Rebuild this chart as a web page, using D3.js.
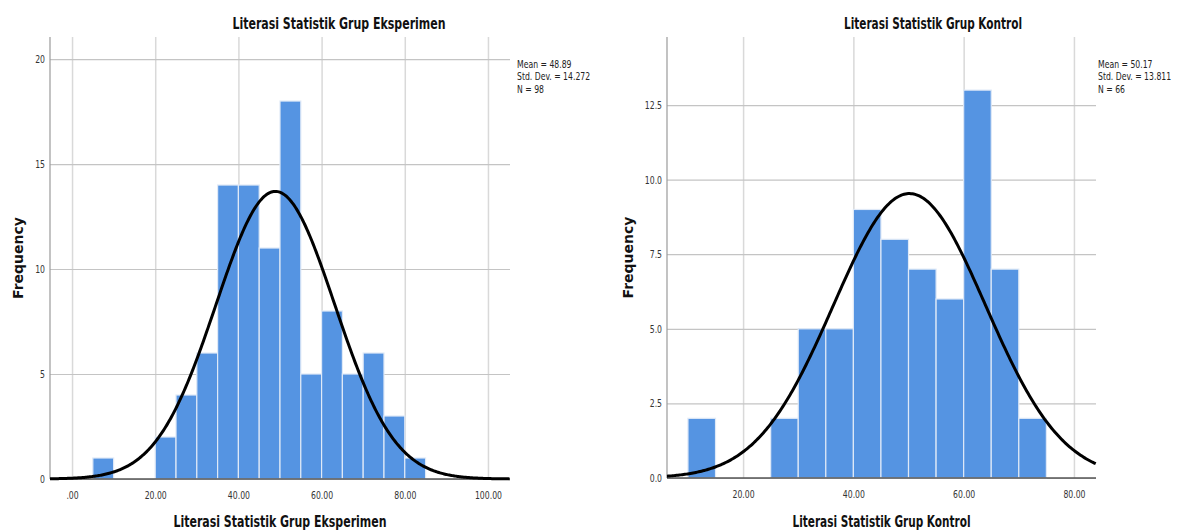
<!DOCTYPE html>
<html><head>
<meta charset="utf-8">
<script src="https://d3js.org/d3.v7.min.js"></script>
<style>
  body { margin: 0; background: #fff; }
  svg text { font-family: "Liberation Sans Narrow", "DejaVu Sans Condensed", "DejaVu Sans", sans-serif; }
  .vgrid line { stroke: #d9d9d9; stroke-width: 1.5; }
  .hgrid line { stroke: #c4c4c4; stroke-width: 1.2; }
  .vgrid .domain, .hgrid .domain { stroke: none; }
  .ticks .domain { stroke: none; }
  .ticks text { fill: #333; font-size: 11px; }
</style>
</head>
<body>
<svg id="svg1" width="1178" height="531"></svg>
<script>

// histogram data (bin lower edges, bin width 5)
const binWidth = 5;
const eksBinStart = [5, 20, 25, 30, 35, 40, 45, 50, 55, 60, 65, 70, 75, 80];
const eksCounts   = [1, 2, 4, 6, 14, 14, 11, 18, 5, 8, 5, 6, 3, 1];
const konBinStart = [10, 25, 30, 35, 40, 45, 50, 55, 60, 65, 70];
const konCounts   = [2, 2, 5, 5, 9, 8, 7, 6, 13, 7, 2];

// summary stats shown next to each chart
const eksStats = [48.89, 14.272, 98];   // mean, sd, n
const konStats = [50.17, 13.811, 66];

// ticks
const eksXTicks = [0, 20, 40, 60, 80, 100];
const eksYTicks = [0, 5, 10, 15, 20];
const konXTicks = [20, 40, 60, 80];
const konYTicks = [0, 2.5, 5, 7.5, 10, 12.5];

const eksTitle = "Literasi Statistik Grup Eksperimen";
const konTitle = "Literasi Statistik Grup Kontrol";

let svg1 = d3.select("svg#svg1");

function drawPanel(p) {
  const w = p.right - p.left, h = p.bottom - p.top;
  let g = svg1.append("g").attr("transform", `translate(${p.left},${p.top})`);

  let xScale = d3.scaleLinear().domain(p.xDomain).range([0, w]);
  let yScale = d3.scaleLinear().domain(p.yDomain).range([h, 0]);

  // gridlines
  g.append("g").attr("class", "vgrid")
    .call(d3.axisBottom(xScale).tickValues(p.xTicks).tickSize(h).tickFormat(""));
  g.append("g").attr("class", "hgrid")
    .call(d3.axisLeft(yScale).tickValues(p.yTicks).tickSize(-w).tickFormat(""));

  // y axis line
  g.append("line").attr("x1", 0).attr("x2", 0).attr("y1", 0).attr("y2", h)
    .attr("stroke", "#9a9a9a").attr("stroke-width", 1.2);

  // bars
  let bins = p.starts.map((s, i) => ({ x0: s, x1: s + binWidth, n: p.counts[i] }));
  g.selectAll("rect.bar").data(bins).join("rect")
    .attr("class", "bar")
    .attr("x", d => xScale(d.x0))
    .attr("width", d => xScale(d.x1) - xScale(d.x0))
    .attr("y", d => yScale(d.n))
    .attr("height", d => yScale(0) - yScale(d.n))
    .attr("fill", "#5594e2")
    .attr("stroke", "#dfe9f7")
    .attr("stroke-width", 1.2);

  // baseline
  g.append("line").attr("x1", 0).attr("x2", w).attr("y1", h).attr("y2", h)
    .attr("stroke", "#555").attr("stroke-width", 1.6);

  // fitted normal curve from the reported mean / sd / n
  const [mean, sd, n] = p.stats;
  const xs = d3.range(p.xDomain[0], p.xDomain[1] + 0.01, 0.25);
  let curve = d3.line()
    .x(d => xScale(d))
    .y(d => yScale(n * binWidth * Math.exp(-0.5 * ((d - mean) / sd) ** 2) / (sd * Math.sqrt(2 * Math.PI))));
  g.append("path").datum(xs)
    .attr("d", curve)
    .attr("fill", "none")
    .attr("stroke", "#000")
    .attr("stroke-width", 3);

  // tick labels
  g.append("g").attr("class", "ticks")
    .attr("transform", `translate(0,${h})`)
    .call(d3.axisBottom(xScale).tickValues(p.xTicks).tickSize(0).tickPadding(12)
      .tickFormat(d => d === 0 ? ".00" : d.toFixed(2)));
  g.append("g").attr("class", "ticks")
    .call(d3.axisLeft(yScale).tickValues(p.yTicks).tickSize(0).tickPadding(5)
      .tickFormat(p.yFormat));
  g.selectAll(".ticks text").classed("narrow", true);

  // stats text, squeezed horizontally like the SPSS narrow face
  ["Mean = " + mean.toFixed(2), "Std. Dev. = " + sd.toFixed(3), "N = " + n].forEach((t, i) => {
    svg1.append("text")
      .attr("transform", `translate(${p.statsX},${68 + i * 12.4}) scale(0.78,1)`)
      .attr("font-size", "11px").attr("fill", "#222")
      .text(t);
  });

  // titles
  svg1.append("text").attr("x", p.titleX).attr("y", 29)
    .attr("text-anchor", "middle").attr("font-size", "16px").attr("font-weight", "bold")
    .attr("fill", "#111")
    .attr("textLength", p.titleLen).attr("lengthAdjust", "spacingAndGlyphs")
    .text(p.title);
  svg1.append("text").attr("x", (p.left + p.right) / 2).attr("y", 527)
    .attr("text-anchor", "middle").attr("font-size", "16px").attr("font-weight", "bold")
    .attr("fill", "#111")
    .attr("textLength", p.titleLen).attr("lengthAdjust", "spacingAndGlyphs")
    .text(p.title);
  svg1.append("text")
    .attr("transform", `translate(${p.freqX},${(p.top + p.bottom) / 2}) rotate(-90)`)
    .attr("text-anchor", "middle")
    .style("font-family", "'DejaVu Sans', sans-serif")
    .attr("font-size", "14px").attr("font-weight", "bold").attr("fill", "#111")
    .text("Frequency");
}

drawPanel({
  left: 50, right: 510, top: 37, bottom: 479,
  xDomain: [-5.3, 105.3], yDomain: [0, 21.05],
  xTicks: eksXTicks, yTicks: eksYTicks, yFormat: d3.format("d"),
  starts: eksBinStart, counts: eksCounts, stats: eksStats, statsX: 517,
  title: eksTitle, titleX: 339, titleLen: 213, freqX: 23
});

drawPanel({
  left: 667, right: 1096, top: 37, bottom: 478,
  xDomain: [6.2, 84.0], yDomain: [0, 14.78],
  xTicks: konXTicks, yTicks: konYTicks, yFormat: d3.format(".1f"),
  starts: konBinStart, counts: konCounts, stats: konStats, statsX: 1098,
  title: konTitle, titleX: 933, titleLen: 178, freqX: 633
});

// condense the tick labels (SPSS uses a narrow face)
svg1.selectAll("text.narrow").each(function() {
  const len = this.getComputedTextLength();
  d3.select(this).attr("textLength", len * 0.78).attr("lengthAdjust", "spacingAndGlyphs");
});

</script>
</body>
</html>
